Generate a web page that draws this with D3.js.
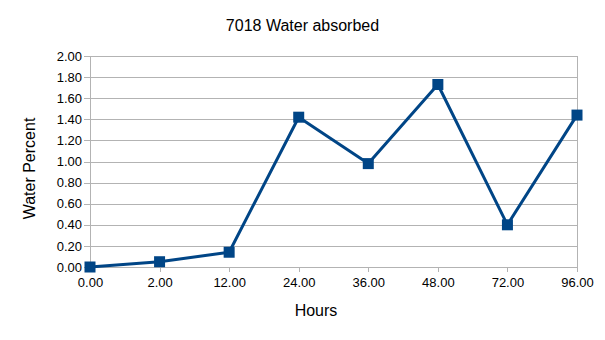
<!DOCTYPE html>
<html>
<head>
<meta charset="utf-8">
<script src="https://cdn.jsdelivr.net/npm/d3@7"></script>
<style>
  html, body { margin: 0; padding: 0; background: #fff; }
  svg { display: block; font-family: "Liberation Sans", Arial, sans-serif; }
</style>
</head>
<body>
<svg id="chart" width="605" height="340"></svg>
<script>
// Water absorbed by sample 7018 over time
const hours = ["0.00", "2.00", "12.00", "24.00", "36.00", "48.00", "72.00", "96.00"];
const waterPercent = [0.00, 0.05, 0.14, 1.42, 0.98, 1.73, 0.40, 1.44];
const yTicks = [0, 0.2, 0.4, 0.6, 0.8, 1.0, 1.2, 1.4, 1.6, 1.8, 2.0];

const svg = d3.select("#chart");
const plot = { left: 90, right: 577, top: 56, bottom: 267 };
const lineColor = "#004586";
const gridColor = "#b3b3b3";

const x = d3.scalePoint().domain(hours).range([plot.left, plot.right]).padding(0);
const y = d3.scaleLinear().domain([0, 2]).range([plot.bottom, plot.top]);

// horizontal gridlines with short outer ticks on the left
const yAxis = d3.axisLeft(y)
  .tickValues(yTicks)
  .tickFormat(d3.format(".2f"))
  .tickSizeInner(-(plot.right - plot.left))
  .tickSizeOuter(0)
  .tickPadding(8);

const gy = svg.append("g")
  .attr("transform", `translate(${plot.left},0)`)
  .call(yAxis);
gy.select(".domain").remove();
gy.selectAll(".tick line")
  .attr("x1", -6)
  .attr("stroke", gridColor)
  .attr("shape-rendering", "crispEdges");
gy.selectAll(".tick text")
  .attr("font-size", 13)
  .attr("fill", "#000")
  .attr("font-family", "Liberation Sans, Arial, sans-serif");

// left and right frame lines
svg.append("line")
  .attr("x1", plot.left).attr("x2", plot.left)
  .attr("y1", plot.top).attr("y2", plot.bottom)
  .attr("stroke", gridColor).attr("shape-rendering", "crispEdges");
svg.append("line")
  .attr("x1", plot.right).attr("x2", plot.right)
  .attr("y1", plot.top).attr("y2", plot.bottom)
  .attr("stroke", gridColor).attr("shape-rendering", "crispEdges");

// category axis along the bottom
const xAxis = d3.axisBottom(x)
  .tickSizeInner(5)
  .tickSizeOuter(0)
  .tickPadding(6);
const gx = svg.append("g")
  .attr("transform", `translate(0,${plot.bottom})`)
  .call(xAxis);
gx.select(".domain").attr("stroke", gridColor).attr("shape-rendering", "crispEdges");
gx.selectAll(".tick line").attr("stroke", gridColor).attr("shape-rendering", "crispEdges");
gx.selectAll(".tick text")
  .attr("font-size", 13)
  .attr("fill", "#000")
  .attr("font-family", "Liberation Sans, Arial, sans-serif");

// data line
const line = d3.line()
  .x((d, i) => x(hours[i]))
  .y(d => y(d));
svg.append("path")
  .datum(waterPercent)
  .attr("fill", "none")
  .attr("stroke", lineColor)
  .attr("stroke-width", 3)
  .attr("stroke-linejoin", "round")
  .attr("d", line);

// square markers
const m = 11;
svg.append("g").selectAll("rect")
  .data(waterPercent)
  .join("rect")
  .attr("x", (d, i) => x(hours[i]) - m / 2)
  .attr("y", d => y(d) - m / 2)
  .attr("width", m)
  .attr("height", m)
  .attr("fill", lineColor);

// titles
svg.append("text")
  .attr("x", 302.5).attr("y", 31)
  .attr("text-anchor", "middle")
  .attr("font-size", 16)
  .text("7018 Water absorbed");

svg.append("text")
  .attr("transform", "translate(34.5,168.5) rotate(-90)")
  .attr("text-anchor", "middle")
  .attr("font-size", 16)
  .text("Water Percent");

svg.append("text")
  .attr("x", 316).attr("y", 316)
  .attr("text-anchor", "middle")
  .attr("font-size", 16)
  .text("Hours");
</script>
</body>
</html>
